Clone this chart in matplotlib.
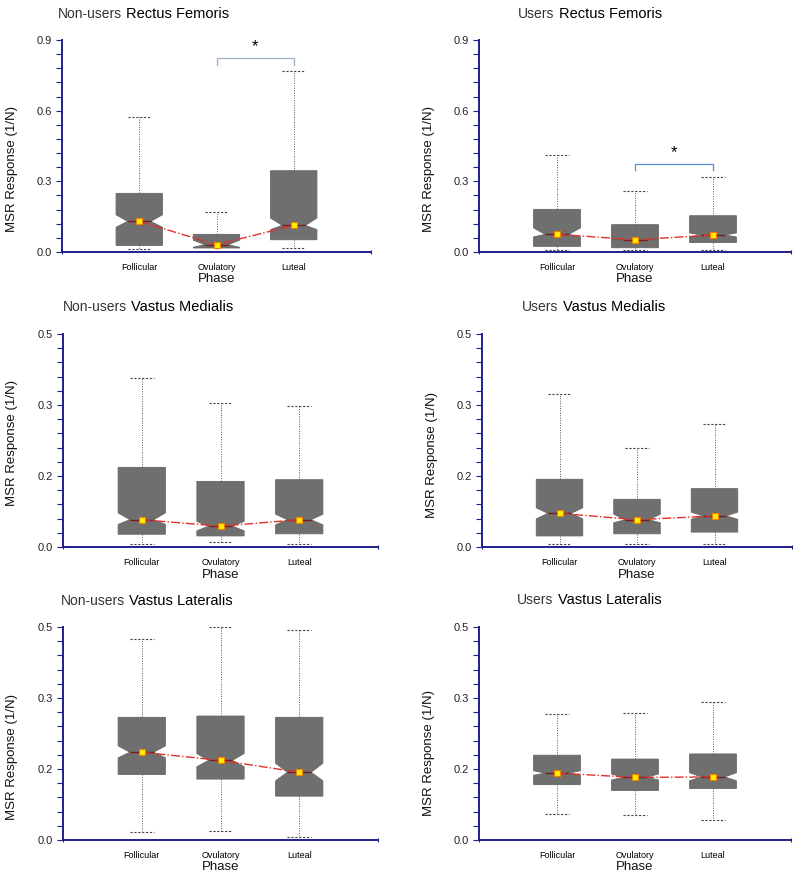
import matplotlib.pyplot as plt
import numpy as np

plt.rcParams['font.family'] = ['Liberation Sans', 'DejaVu Sans']

PHASES = ["Follicular", "Ovulatory", "Luteal"]
GROUPS = ["Non-users", "Users", "Non-users", "Users", "Non-users", "Users"]
MUSCLES = ["Rectus Femoris", "Rectus Femoris", "Vastus Medialis",
           "Vastus Medialis", "Vastus Lateralis", "Vastus Lateralis"]

# one row per panel (reading order), one column per phase
MED = [[0.130, 0.031, 0.113],
       [0.075, 0.052, 0.072],
       [0.064, 0.049, 0.064],
       [0.079, 0.064, 0.073],
       [0.206, 0.187, 0.159],
       [0.157, 0.147, 0.148]]
Q1 = [[0.028, 0.017, 0.052],
      [0.024, 0.018, 0.040],
      [0.030, 0.026, 0.031],
      [0.026, 0.031, 0.035],
      [0.154, 0.143, 0.103],
      [0.130, 0.116, 0.121]]
Q3 = [[0.249, 0.075, 0.345],
      [0.181, 0.116, 0.154],
      [0.187, 0.154, 0.158],
      [0.159, 0.112, 0.137],
      [0.288, 0.291, 0.288],
      [0.199, 0.190, 0.202]]
WHISLO = [[0.011, 0.004, 0.017],
          [0.010, 0.007, 0.010],
          [0.008, 0.012, 0.008],
          [0.006, 0.008, 0.008],
          [0.018, 0.022, 0.008],
          [0.060, 0.058, 0.047]]
WHISHI = [[0.572, 0.171, 0.769],
          [0.411, 0.259, 0.318],
          [0.396, 0.339, 0.332],
          [0.359, 0.233, 0.289],
          [0.473, 0.500, 0.494],
          [0.295, 0.298, 0.323]]
CILO = [[0.105, 0.020, 0.095],
        [0.064, 0.051, 0.064],
        [0.053, 0.038, 0.052],
        [0.066, 0.057, 0.065],
        [0.193, 0.172, 0.139],
        [0.152, 0.141, 0.139]]
CIHI = [[0.158, 0.050, 0.144],
        [0.102, 0.053, 0.081],
        [0.080, 0.060, 0.077],
        [0.092, 0.077, 0.082],
        [0.221, 0.203, 0.180],
        [0.1625, 0.155, 0.158]]

# significance brackets (Ovulatory vs Luteal) for the two top panels
SIG_PANELS = [0, 1]
SIG_TOP = [0.822, 0.374]
SIG_LEG = [0.794, 0.349]
SIG_STAR = [0.870, 0.420]
SIG_COLOR = ["#9fb0c8", "#5b8fd8"]

# layout in pixels of the 800x877 image: left, right, top, bottom of each axes
AX_PX = [(62, 371, 40, 252), (479, 791, 40, 252),
         (63, 378, 334, 547), (482, 792, 334, 547),
         (63, 378, 627, 840), (479, 791, 627, 840)]
TITLE_PX = [(58, 14), (518, 14), (63, 307), (522, 307), (61, 601), (517, 600)]
YLABEL_Y = [0.39, 0.39, 0.49, 0.43, 0.39, 0.41]

W, H = 800, 877
NAVY = "#1f1f8c"

fig = plt.figure(figsize=(W / 100, H / 100), dpi=100)

for i in range(6):
    l, r, t, b = AX_PX[i]
    ax = fig.add_axes([l / W, 1 - b / H, (r - l) / W, (b - t) / H])

    stats = []
    for j, ph in enumerate(PHASES):
        stats.append(dict(med=MED[i][j], q1=Q1[i][j], q3=Q3[i][j],
                          whislo=WHISLO[i][j], whishi=WHISHI[i][j],
                          cilo=CILO[i][j], cihi=CIHI[i][j],
                          fliers=[], label=ph))
    pos = [1, 2, 3]
    ax.bxp(stats, positions=pos, widths=0.6, shownotches=True,
           patch_artist=True, showfliers=False,
           boxprops=dict(facecolor="#6f6f6f", edgecolor="#666666", linewidth=0.6),
           whiskerprops=dict(color="#555555", linestyle=(0, (1, 1.5)), linewidth=0.7),
           capprops=dict(color="#444444", linestyle=(0, (2, 1.5)), linewidth=0.8),
           medianprops=dict(color="#7a1a1a", linewidth=1.0))
    ax.plot(pos, MED[i], linestyle="-.", color="#e0302a", linewidth=1.0,
            marker="s", markersize=5, markerfacecolor="#ffee00",
            markeredgecolor="#f08000", markeredgewidth=0.8, zorder=5)

    if i < 2:
        ax.set_ylim(0, 0.9)
        ax.set_yticks([0, 0.3, 0.6, 0.9], labels=["0.0", "0.3", "0.6", "0.9"])
        ax.set_yticks(np.arange(0, 0.9001, 0.06), minor=True)
    else:
        ax.set_ylim(0, 0.5)
        ax.set_yticks([0, 0.5 / 3, 1.0 / 3, 0.5],
                      labels=["0.0", "0.2", "0.3", "0.5"])
        ax.set_yticks(np.arange(0, 0.5001, 1.0 / 30), minor=True)

    ax.set_xlim(0, 4)
    ax.set_xticks(pos, labels=PHASES)
    ax.set_xticks([0, 4], minor=True)
    ax.tick_params(axis="x", which="major", length=0, labelsize=6.5, pad=8)
    ax.tick_params(axis="x", which="minor", length=3, direction="inout",
                   color=NAVY, width=0.8)
    ax.tick_params(axis="y", which="both", length=4, direction="out",
                   color=NAVY, width=0.8, labelsize=8, labelcolor="#222222")

    for s in ["top", "right"]:
        ax.spines[s].set_visible(False)
    for s in ["left", "bottom"]:
        ax.spines[s].set_color(NAVY)
        ax.spines[s].set_linewidth(1.4)

    ax.set_ylabel("MSR Response (1/N)", fontsize=9.5, color="#111111")
    ax.yaxis.set_label_coords(-0.142, YLABEL_Y[i])
    ax.set_xlabel("Phase", fontsize=9.5, color="#111111", labelpad=1)

    if i in SIG_PANELS:
        k = SIG_PANELS.index(i)
        ax.plot([2, 2, 3, 3], [SIG_LEG[k], SIG_TOP[k], SIG_TOP[k], SIG_LEG[k]],
                color=SIG_COLOR[k], linewidth=0.9, clip_on=False)
        ax.text(2.5, SIG_STAR[k], "*", ha="center", va="center", fontsize=12)

    tx, ty = TITLE_PX[i]
    t1 = fig.text(tx / W, 1 - ty / H, GROUPS[i], ha="left", va="center",
                  fontsize=10, color="#333333")
    ax.annotate(MUSCLES[i], xy=(1, 0.5), xycoords=t1, xytext=(3, 0),
                textcoords="offset points", ha="left", va="center",
                fontsize=10.5, color="#000000")

fig.savefig("out.png", dpi=100)
